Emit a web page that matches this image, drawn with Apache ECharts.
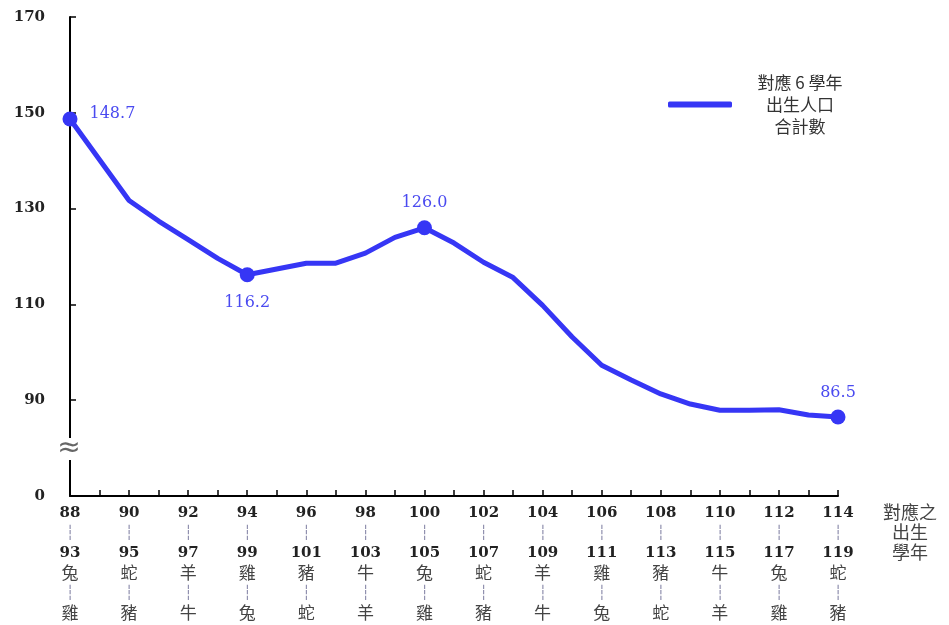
<!DOCTYPE html>
<html>
<head>
<meta charset="utf-8">
<script src="https://cdn.jsdelivr.net/npm/echarts@6/dist/echarts.min.js"></script>
<style>html,body{margin:0;padding:0;background:#fff;}#c{width:949px;height:625px;}</style>
</head>
<body>
<div id="c"></div>
<script>
// School years (x categories)
var schoolYears = ['88','89','90','91','92','93','94','95','96','97','98','99','100','101','102','103','104','105','106','107','108','109','110','111','112','113','114'];
// Corresponding 6 birth-year totals (萬人)
var totals = [148.7,140.2,131.7,127.4,123.5,119.6,116.2,117.4,118.6,118.6,120.7,124.0,126.0,122.8,118.8,115.6,109.8,103.2,97.3,94.2,91.3,89.2,87.9,87.9,88.0,86.9,86.5];
// Indices with markers + value labels
var markedIdx = [0, 6, 12, 26];
// Birth-year range start (for labelled school years)
var birthStart = ['93','95','97','99','101','103','105','107','109','111','113','115','117','119'];
var zodiacStart = ['兔','蛇','羊','雞','豬','牛','兔','蛇','羊','雞','豬','牛','兔','蛇'];
var zodiacEnd   = ['雞','豬','牛','兔','蛇','羊','雞','豬','牛','兔','蛇','羊','雞','豬'];
// Y tick labels (bottom tick is a broken-axis "0")
var yTickLabels = {70:'0', 90:'90', 110:'110', 130:'130', 150:'150', 170:'170'};
var seriesName = '對應 6 學年出生人口合計數';

var chart = echarts.init(document.getElementById('c'));
var labelPos = {0:{position:'right',distance:12,offset:[0,-5]},6:{position:'bottom',distance:13},12:{position:'top',distance:9},26:{position:'top',distance:9}};
var dataItems = totals.map(function(v,i){
  var m = markedIdx.indexOf(i) >= 0;
  var item = {value: v, symbolSize: m ? 15 : 0};
  if (m) {
    item.label = Object.assign({show:true, formatter: function(p){return p.value.toFixed(1);}}, labelPos[i]);
  }
  return item;
});

var serif = '"DejaVu Serif","Liberation Serif",serif';
var cjk = '"Noto Sans CJK TC","Noto Sans CJK SC",sans-serif';

chart.setOption({
  animation: false,
  grid: {left: 70, right: 111, top: 17, bottom: 129, containLabel: false},
  legend: {
    data: [seriesName],
    left: 663, top: 69,
    itemWidth: 64, itemHeight: 6, itemGap: 8,
    icon: 'roundRect',
    formatter: function(){ return '{c|對應 6 學年}\n{c|出生人口}\n{c|合計數}'; },
    textStyle: {
      width: 126,
      rich: {c: {align: 'center', fontSize: 17, lineHeight: 22, color: '#333', fontFamily: cjk}}
    }
  },
  xAxis: {
    type: 'category',
    data: schoolYears,
    boundaryGap: false,
    axisLine: {lineStyle: {color: '#000', width: 2}},
    axisTick: {inside: true, length: 6, interval: 0, lineStyle: {color: '#000', width: 1.5}},
    axisLabel: {
      interval: 1,
      margin: 7,
      formatter: function(val, idx){
        var k = idx / 2;
        return '{n|' + val + '}\n{d|┆}\n{n|' + birthStart[k] + '}\n{z|' + zodiacStart[k] + '}\n{d|┆}\n{z|' + zodiacEnd[k] + '}';
      },
      rich: {
        n: {fontFamily: serif, fontSize: 15, fontWeight: 'bold', color: '#222', lineHeight: 20},
        z: {fontFamily: cjk, fontSize: 17, color: '#444', lineHeight: 20},
        d: {fontFamily: '"DejaVu Sans"', fontSize: 14, color: '#8a8aaa', lineHeight: 20}
      }
    }
  },
  yAxis: {
    type: 'value',
    min: 70, max: 170, interval: 20,
    splitLine: {show: false},
    axisLine: {show: true, lineStyle: {color: '#000', width: 2}},
    axisTick: {show: true, inside: true, length: 6, lineStyle: {color: '#000', width: 1.5}},
    axisLabel: {
      margin: 25,
      fontFamily: serif, fontSize: 15, fontWeight: 'bold', color: '#222',
      formatter: function(v){ return yTickLabels[v] !== undefined ? yTickLabels[v] : ''; }
    }
  },
  series: [{
    name: seriesName,
    type: 'line',
    data: dataItems,
    symbol: 'circle',
    showSymbol: true,
    lineStyle: {color: '#3636f5', width: 5},
    itemStyle: {color: '#3636f5'},
    label: {show: false, fontFamily: serif, fontSize: 16, color: '#4a4af0'},
    z: 3
  }],
  graphic: [
    {type: 'rect', shape: {x: 62, y: 438, width: 16, height: 22}, style: {fill: '#fff'}, z: 10},
    {type: 'text', x: 69, y: 449, style: {text: '≈', font: '28px "DejaVu Sans"', fill: '#666', align: 'center', verticalAlign: 'middle'}, z: 11},
    {type: 'text', x: 910, y: 502, style: {text: '對應之\n出生\n學年', font: '18px ' + cjk, fill: '#444', align: 'center', lineHeight: 20}, z: 11}
  ]
});
</script>
</body>
</html>
